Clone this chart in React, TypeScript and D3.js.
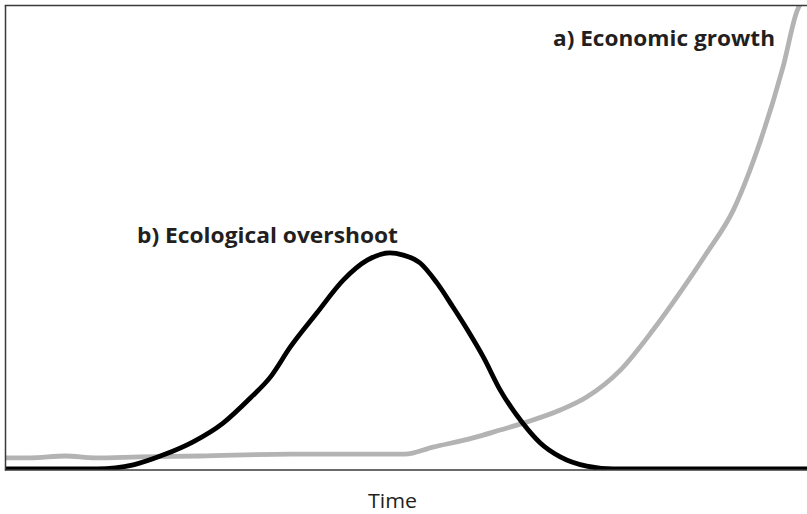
import React from "react";
import * as d3 from "d3";

// Time axis (arbitrary units 0..100) and values (arbitrary units 0..100)
const overshootTime = [0, 11.4, 15.9, 19.6, 23.3, 27.1, 30.5, 33.0, 35.5, 38.8, 42.1, 45.1, 47.9, 49.6, 51.7, 53.8, 55.8, 57.6, 59.6, 61.7, 64.5, 66.7, 69.2, 72.5, 75.8, 100];
const overshootValue = [0, 0, 0.9, 3.0, 5.8, 9.9, 15.3, 19.8, 26.3, 33.6, 40.7, 45.0, 46.6, 46.1, 44.4, 40.1, 34.9, 30.0, 24.1, 17.0, 9.9, 5.6, 2.6, 0.6, 0, 0];

const growthTime = [0, 3.0, 7.4, 11.1, 16.7, 24.2, 35.5, 49.8, 53.3, 58.3, 61.7, 65.0, 69.2, 72.5, 76.7, 80.8, 84.1, 87.5, 90.8, 93.8, 97.0, 98.8, 99.1];
const growthValue = [2.4, 2.4, 2.8, 2.4, 2.6, 2.8, 3.2, 3.2, 4.7, 6.7, 8.4, 10.1, 12.7, 15.5, 21.3, 30.0, 37.9, 46.6, 55.8, 68.8, 86.6, 98.9, 100];

const labelA = "a) Economic growth";
const labelB = "b) Ecological overshoot";
const axisLabel = "Time";

const W = 807;
const H = 514;

export default function App() {
  const x = d3.scaleLinear().domain([0, 100]).range([6, 807]);
  const y = d3.scaleLinear().domain([0, 100]).range([469, 5]);

  const line = d3
    .line<[number, number]>()
    .x((d) => x(d[0]))
    .y((d) => y(d[1]))
    .curve(d3.curveMonotoneX);

  const overshoot = overshootTime.map((t, i) => [t, overshootValue[i]] as [number, number]);
  const growth = growthTime.map((t, i) => [t, growthValue[i]] as [number, number]);

  const font = "'Open Sans', Lato, sans-serif";

  return (
    <svg
      width={W}
      height={H}
      style={{ position: "absolute", left: 0, top: 0, background: "#fff" }}
    >
      <defs>
        <clipPath id="plot">
          <rect x={x(0)} y={5.5} width={x(100) - x(0)} height={470 - 5.5} />
        </clipPath>
      </defs>
      <g clipPath="url(#plot)">
        <path d={line(growth) || ""} fill="none" stroke="#b3b3b3" strokeWidth={4.8} />
        <path d={line(overshoot) || ""} fill="none" stroke="#000" strokeWidth={4.8} />
      </g>
      {/* frame */}
      <line x1={4.8} x2={W} y1={5.5} y2={5.5} stroke="#3a3a3a" strokeWidth={1.5} />
      <line x1={5.5} x2={5.5} y1={5} y2={470.5} stroke="#3a3a3a" strokeWidth={1.5} />
      <line x1={4.8} x2={W} y1={470} y2={470} stroke="#3a3a3a" strokeWidth={1.5} />

      <text x={553} y={46} textLength={222} lengthAdjust="spacingAndGlyphs" fontFamily={font} fontWeight={700} fontSize={21} fill="#231f20">
        {labelA}
      </text>
      <text x={137} y={243} textLength={261} lengthAdjust="spacingAndGlyphs" fontFamily={font} fontWeight={700} fontSize={21} fill="#231f20">
        {labelB}
      </text>
      <text x={368} y={508} textLength={49} lengthAdjust="spacingAndGlyphs" fontFamily={font} fontSize={20} fill="#231f20">
        {axisLabel}
      </text>
    </svg>
  );
}
